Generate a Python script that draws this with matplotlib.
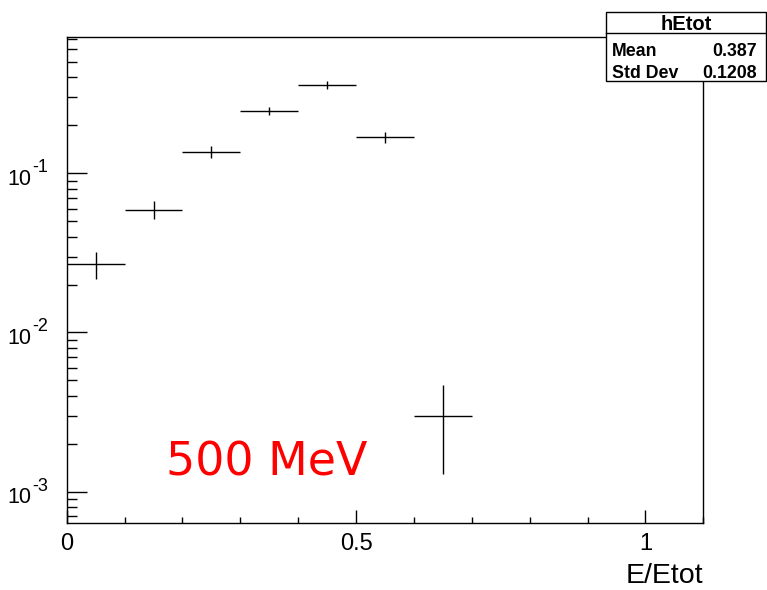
import numpy as np
import matplotlib
matplotlib.use("Agg")
import matplotlib.pyplot as plt
from matplotlib.patches import Rectangle
from matplotlib.lines import Line2D
from matplotlib.ticker import FixedLocator, MultipleLocator, LogLocator, FuncFormatter, NullFormatter

plt.rcParams['font.family'] = ['Liberation Sans', 'DejaVu Sans']

# histogram hEtot, normalised to unit area
bin_centers = [0.05, 0.15, 0.25, 0.35, 0.45, 0.55, 0.65]
bin_half_width = 0.05
fractions = [0.027, 0.059, 0.136, 0.247, 0.359, 0.169, 0.003]
errors = [0.0052, 0.0077, 0.0117, 0.0157, 0.0189, 0.0130, 0.0017]

y_decades = [-3, -2, -1]
hist_name = "hEtot"
stat_names = ["Mean", "Std Dev"]
stat_values = ["0.387", "0.1208"]
energy_label = "500 MeV"

W, H = 767, 590
fig = plt.figure(figsize=(W / 100, H / 100), dpi=100)
ax = fig.add_axes([66.7 / W, 1 - 523.3 / H, 636.6 / W, 486.6 / H])

ax.errorbar(bin_centers, fractions, xerr=bin_half_width, yerr=errors,
            fmt='none', ecolor='black', elinewidth=1.0, capsize=0)

ax.set_yscale('log')
ax.set_xlim(0, 1.1)
ax.set_ylim(6.33e-4, 0.721)

ax.xaxis.set_major_locator(FixedLocator([0, 0.5, 1.0]))
ax.xaxis.set_minor_locator(MultipleLocator(0.1))
ax.xaxis.set_major_formatter(FuncFormatter(lambda v, p: '%g' % v))
ax.yaxis.set_major_locator(FixedLocator([10.0 ** d for d in y_decades]))
ax.yaxis.set_minor_locator(LogLocator(base=10, subs=np.arange(2, 10)))
ax.yaxis.set_major_formatter(NullFormatter())
ax.yaxis.set_minor_formatter(NullFormatter())

ax.tick_params(which='both', direction='in', top=False, right=False, color='black')
ax.tick_params(axis='x', which='major', length=9.5, width=1, labelsize=17, pad=7)
ax.tick_params(axis='x', which='minor', length=4.5, width=1)
ax.tick_params(axis='y', which='major', length=14.5, width=1)
ax.tick_params(axis='y', which='minor', length=7.5, width=1)
for s in ax.spines.values():
    s.set_linewidth(1.0)

# ROOT style 10^n labels with a large exponent
for d in y_decades:
    ax.annotate("10", xy=(0, 10.0 ** d), xycoords=('axes fraction', 'data'),
                xytext=(-35, -11.6), textcoords='offset pixels',
                ha='right', va='baseline', fontsize=15.5, annotation_clip=False)
    ax.annotate("-%d" % -d, xy=(0, 10.0 ** d), xycoords=('axes fraction', 'data'),
                xytext=(-34, 1), textcoords='offset pixels',
                ha='left', va='baseline', fontsize=13, annotation_clip=False)

ax.set_xlabel("E/Etot", fontsize=20.5, loc='right', labelpad=6)

ax.text(0.156, 0.099, energy_label, transform=ax.transAxes, color='red',
        fontsize=33, family='DejaVu Sans', va='baseline', ha='left')

# stats box
bx0, bx1 = 605.7 / W, 766 / W
by_top, by_bot = 1 - 12.3 / H, 1 - 80.7 / H
fig.add_artist(Rectangle((bx0, by_bot), bx1 - bx0, by_top - by_bot,
                         transform=fig.transFigure, facecolor='white',
                         edgecolor='black', linewidth=1.0, zorder=5))
fig.add_artist(Line2D([bx0, bx1], [1 - 33.3 / H] * 2, transform=fig.transFigure,
                      color='black', linewidth=1.0, zorder=6))
fig.text((bx0 + bx1) / 2, 1 - 29.5 / H, hist_name, ha='center', va='baseline',
         fontsize=14.5, fontweight='bold', zorder=7)
for i, (n, v) in enumerate(zip(stat_names, stat_values)):
    yb = 1 - (55.5 + 22 * i) / H
    fig.text(612 / W, yb, n, ha='left', va='baseline', fontsize=12.8,
             fontweight='bold', zorder=7)
    fig.text(757 / W, yb, v, ha='right', va='baseline', fontsize=12.8,
             fontweight='bold', zorder=7)

fig.savefig("out.png", dpi=100)
